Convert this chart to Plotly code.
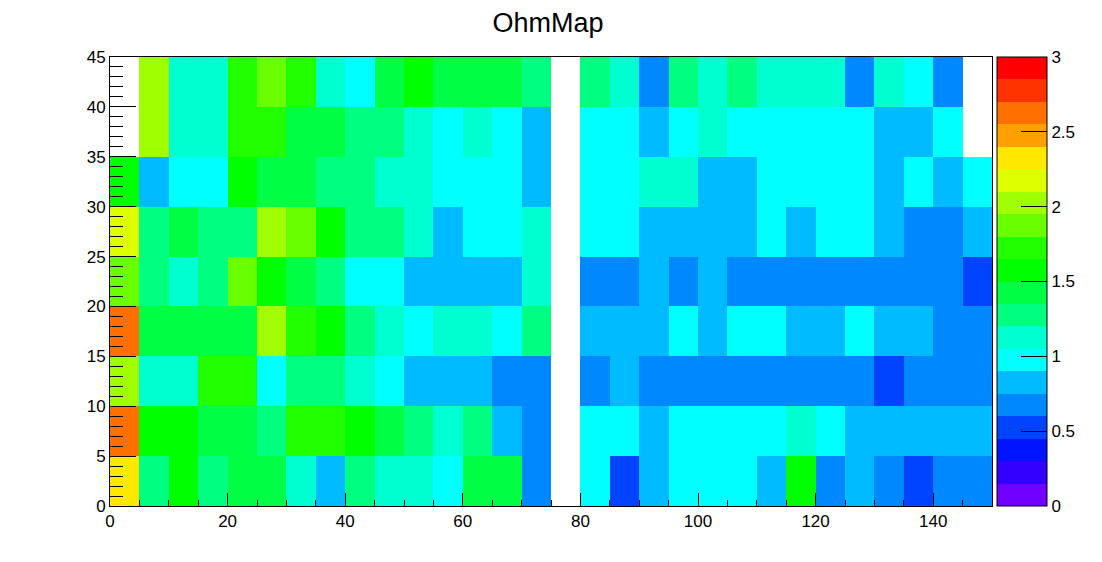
import plotly.graph_objects as go

# bin edges
x_edges = list(range(0, 151, 5))
y_edges = list(range(0, 46, 5))

# values (row 0 = y 0-5 ... row 8 = y 40-45); None = empty bin
N = None
row0 = [2.33, 1.28, 1.58, 1.28, 1.43, 1.43, 1.13, 0.83, 1.28, 1.13, 1.13, 0.98, 1.43, 1.43, 0.68, N, 0.98, 0.53, 0.83, 0.98, 0.98, 0.98, 0.83, 1.58, 0.68, 0.83, 0.68, 0.53, 0.68, 0.68]
row1 = [2.63, 1.58, 1.58, 1.43, 1.43, 1.28, 1.73, 1.73, 1.58, 1.43, 1.28, 1.13, 1.28, 0.83, 0.68, N, 0.98, 0.98, 0.83, 0.98, 0.98, 0.98, 0.98, 1.13, 0.98, 0.83, 0.83, 0.83, 0.83, 0.83]
row2 = [2.03, 1.13, 1.13, 1.73, 1.73, 0.98, 1.28, 1.28, 1.13, 0.98, 0.83, 0.83, 0.83, 0.68, 0.68, N, 0.68, 0.83, 0.68, 0.68, 0.68, 0.68, 0.68, 0.68, 0.68, 0.68, 0.53, 0.68, 0.68, 0.68]
row3 = [2.63, 1.43, 1.43, 1.43, 1.43, 2.03, 1.73, 1.58, 1.28, 1.13, 0.98, 1.13, 1.13, 0.98, 1.28, N, 0.83, 0.83, 0.83, 0.98, 0.83, 0.98, 0.98, 0.83, 0.83, 0.98, 0.83, 0.83, 0.68, 0.68]
row4 = [1.88, 1.28, 1.13, 1.28, 1.88, 1.58, 1.43, 1.28, 0.98, 0.98, 0.83, 0.83, 0.83, 0.83, 1.13, N, 0.68, 0.68, 0.83, 0.68, 0.83, 0.68, 0.68, 0.68, 0.68, 0.68, 0.68, 0.68, 0.68, 0.53]
row5 = [2.18, 1.28, 1.43, 1.28, 1.28, 2.03, 1.88, 1.58, 1.28, 1.28, 1.13, 0.83, 0.98, 0.98, 1.13, N, 0.98, 0.98, 0.83, 0.83, 0.83, 0.83, 0.98, 0.83, 0.98, 0.98, 0.83, 0.68, 0.68, 0.83]
row6 = [1.58, 0.83, 0.98, 0.98, 1.58, 1.43, 1.43, 1.28, 1.28, 1.13, 1.13, 0.98, 0.98, 0.98, 0.83, N, 0.98, 0.98, 1.13, 1.13, 0.83, 0.83, 0.98, 0.98, 0.98, 0.98, 0.83, 0.98, 0.83, 0.98]
row7 = [N, 2.03, 1.13, 1.13, 1.73, 1.73, 1.43, 1.43, 1.28, 1.28, 1.13, 0.98, 1.13, 0.98, 0.83, N, 0.98, 0.98, 0.83, 0.98, 1.13, 0.98, 0.98, 0.98, 0.98, 0.98, 0.83, 0.83, 0.98, N]
row8 = [N, 2.03, 1.13, 1.13, 1.73, 1.88, 1.73, 1.13, 0.98, 1.43, 1.58, 1.43, 1.43, 1.43, 1.28, N, 1.28, 1.13, 0.68, 1.28, 1.13, 1.28, 1.13, 1.13, 1.13, 0.68, 1.13, 0.98, 0.68, N]
z = [row0, row1, row2, row3, row4, row5, row6, row7, row8]

# 20-step rainbow palette (0 -> 3)
palette = ["#7000ff", "#3300ff", "#0014ff", "#0044ff", "#0088ff", "#00bbff", "#00ffff",
           "#00ffd0", "#00ff80", "#00ff44", "#00ff00", "#22ff00", "#6aff00", "#a0ff00",
           "#ddff00", "#ffe800", "#ffa000", "#ff7000", "#ff3300", "#ff0000"]
zmin, zmax = 0, 3
colorscale = []
n = len(palette)
for i, c in enumerate(palette):
    colorscale.append([i / n, c])
    colorscale.append([(i + 1) / n, c])

cb_ticks = [0, 0.5, 1, 1.5, 2, 2.5, 3]

font = "Liberation Sans, Arial, Helvetica, sans-serif"

# page has an 8px body margin, so the figure is sized/positioned to compensate
W, H = 1094, 554
ML, MT = 102, 49
PW, PH = 882, 449

fig = go.Figure(go.Heatmap(
    x=x_edges, y=y_edges, z=z,
    colorscale=colorscale, zmin=zmin, zmax=zmax,
    hoverongaps=False,
    colorbar=dict(
        x=(997 - 110) / PW, xanchor="left", xpad=0,
        y=0.5, yanchor="middle", len=1, lenmode="fraction", ypad=0,
        thickness=50, thicknessmode="pixels",
        outlinewidth=1, outlinecolor="black",
        tickvals=cb_ticks, ticktext=[str(t) for t in cb_ticks],
        ticks="inside", ticklen=26, tickcolor="black", tickwidth=1,
        tickfont=dict(family=font, size=17, color="black"),
    ),
))

fig.update_layout(
    width=W, height=H,
    margin=dict(l=ML, r=W - ML - PW, t=MT, b=H - MT - PH, autoexpand=False),
    paper_bgcolor="white", plot_bgcolor="white",
    title=dict(text="OhmMap", x=(548 - 8) / W, xanchor="center", y=1 - 15 / H, yanchor="middle",
               font=dict(family=font, size=27, color="black")),
    font=dict(family=font, color="black"),
)
fig.update_xaxes(
    range=[0, 150], tickvals=list(range(0, 141, 20)), automargin=False,
    ticks="inside", ticklen=13, tickcolor="black", tickwidth=1,
    minor=dict(dtick=5, tick0=0, ticks="inside", ticklen=6, tickcolor="black", tickwidth=1),
    showline=True, linecolor="black", linewidth=1, mirror=True,
    showgrid=False, zeroline=False,
    tickfont=dict(family=font, size=17, color="black"),
)
fig.update_yaxes(
    range=[0, 45], tickvals=list(range(0, 46, 5)), automargin=False,
    ticks="inside", ticklen=26, tickcolor="black", tickwidth=1,
    minor=dict(dtick=1, tick0=0, ticks="inside", ticklen=13, tickcolor="black", tickwidth=1),
    showline=True, linecolor="black", linewidth=1, mirror=True,
    showgrid=False, zeroline=False,
    tickfont=dict(family=font, size=17, color="black"),
)

fig.write_html("out.html")
